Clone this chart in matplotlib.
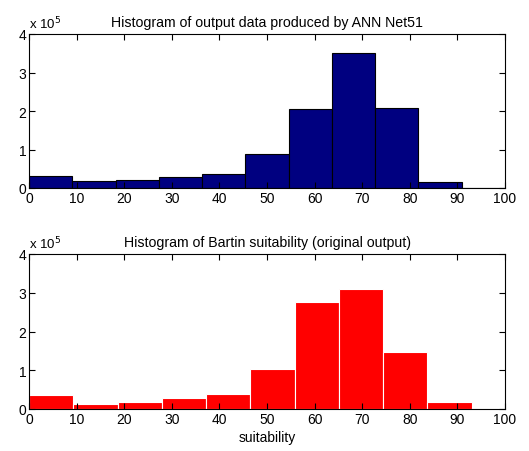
import numpy as np
import matplotlib
matplotlib.use('Agg')
import matplotlib.pyplot as plt
from matplotlib.ticker import FuncFormatter

plt.rcParams['font.family'] = ['Liberation Sans', 'DejaVu Sans']

# bin edges (11 bins each)
edges_net = np.linspace(0, 100, 12)
edges_orig = np.linspace(0, 102.3, 12)

# counts
counts_net = np.array([0.30, 0.19, 0.22, 0.28, 0.37, 0.89, 2.06, 3.50, 2.09, 0.16, 0.0]) * 1e5
counts_orig = np.array([0.36, 0.12, 0.18, 0.29, 0.39, 1.03, 2.75, 3.10, 1.47, 0.18, 0.0]) * 1e5

xticks = np.arange(0, 101, 10)
yticks = np.arange(0, 4.1, 1) * 1e5

fig = plt.figure(figsize=(5.29, 4.52), dpi=100)
ax1 = fig.add_axes([29/529, 1 - 189/452, 476/529, 154/452])
ax2 = fig.add_axes([29/529, 1 - 410/452, 476/529, 155/452])

def style(ax, title):
    ax.set_xlim(0, 100)
    ax.set_ylim(0, 4e5)
    ax.set_xticks(xticks)
    ax.set_yticks(yticks)
    ax.yaxis.set_major_formatter(FuncFormatter(lambda v, p: '%d' % round(v / 1e5)))
    ax.tick_params(direction='in', top=True, right=True, length=4, labelsize=10, pad=2)
    ax.set_title(title, fontsize=10.2, pad=6)
    ax.text(0, 1.02, r'x 10$^5$', transform=ax.transAxes, fontsize=9.5, ha='left', va='bottom')
    for s in ax.spines.values():
        s.set_linewidth(0.8)

w1 = np.diff(edges_net)
ax1.bar(edges_net[:-1], counts_net, width=w1, align='edge', color='#000080', edgecolor='black', linewidth=0.8)
style(ax1, 'Histogram of output data produced by ANN Net51')

w2 = np.diff(edges_orig)
ax2.bar(edges_orig[:-1], counts_orig, width=w2, align='edge', color='#ff0000', edgecolor='white', linewidth=0.8)
style(ax2, 'Histogram of Bartin suitability (original output)')
ax2.set_xlabel('suitability', fontsize=10, labelpad=3)

fig.savefig('out.png', dpi=100)
